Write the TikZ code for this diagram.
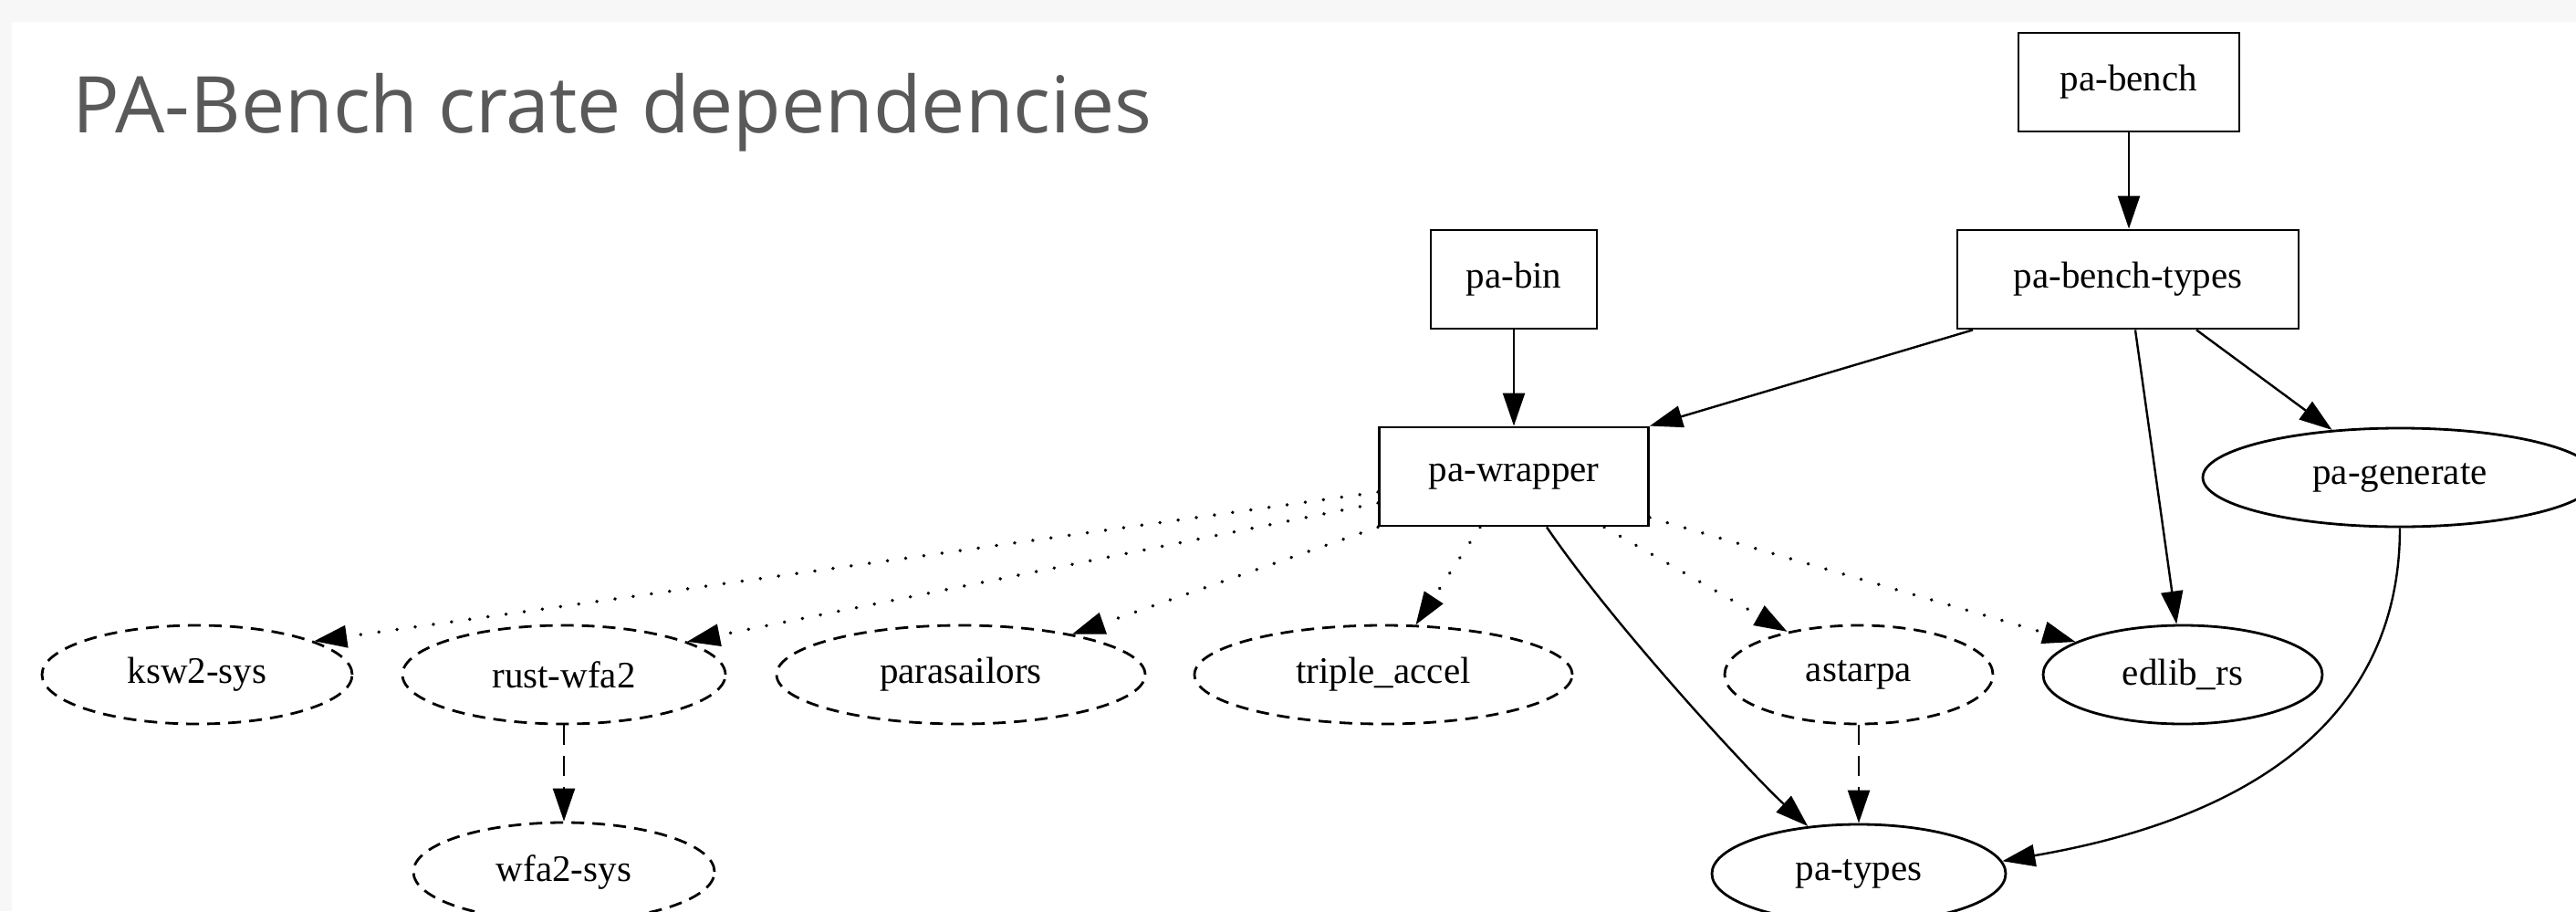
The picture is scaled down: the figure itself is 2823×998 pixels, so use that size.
\documentclass[tikz,border=0pt]{standalone}
\usepackage{fontspec}
\setmainfont{Liberation Serif}
\newfontfamily\titlefont{Open Sans}
\usetikzlibrary{arrows.meta,shapes.geometric}
\definecolor{bgout}{HTML}{F7F7F7}
\definecolor{titlegray}{HTML}{595959}
\newcommand{\lblfont}{\fontsize{41bp}{49bp}\selectfont}
\tikzset{
  box/.style={draw, rectangle, line width=2.8bp, inner sep=0pt, minimum height=108bp, font=\lblfont},
  ell/.style={draw, ellipse, line width=2.8bp, inner sep=0pt, minimum height=108bp, font=\lblfont},
  dashell/.style={ell, dash pattern=on 14bp off 9bp},
  edge/.style={line width=2.4bp, -{Triangle[length=36bp,width=24bp]}},
  dotedge/.style={edge, line cap=round, dash pattern=on 0.1bp off 20bp, line width=3.8bp},
  dashedge/.style={edge, dash pattern=on 22bp off 12bp}
}
\begin{document}
\begin{tikzpicture}[x=1bp, y=-1bp]
\useasboundingbox (0,0) rectangle (2823,998);
\clip (0,0) rectangle (2823,998);
\fill[bgout] (0,0) rectangle (2823,998);
\fill[white] (13,24) rectangle (2823,998);

\node[anchor=base west, inner sep=0pt, text=titlegray,
      font=\titlefont\fontsize{85.8bp}{100bp}\selectfont] (title) at (79,145) {PA-Bench crate dependencies};

% boxes
\node[box, minimum width=242bp] (pb) at (2333,90) {pa-bench};
\node[box, minimum width=374bp] (pbt) at (2332,306) {pa-bench-types};
\node[box, minimum width=182bp] (pbin) at (1659,306) {pa-bin};
\node[box, minimum width=295bp] (pw) at (1659,522) {pa-wrapper};

% ellipses
\node[dashell, minimum width=340bp] (ksw) at (216,739) {ksw2-sys};
\node[dashell, minimum width=354bp] (rwfa) at (618,739) {rust-wfa2};
\node[dashell, minimum width=404bp] (para) at (1053,739) {parasailors};
\node[dashell, minimum width=414bp] (tri) at (1516,739) {triple\_accel};
\node[dashell, minimum width=294bp] (ast) at (2037,739) {astarpa};
\node[ell, minimum width=306bp] (edl) at (2392,739) {edlib\_rs};
\node[ell, minimum width=432bp] (pgen) at (2630,523) {pa-generate};
\node[dashell, minimum width=330bp] (wfa) at (618,955) {wfa2-sys};
\node[ell, minimum width=322bp] (pt) at (2037,957) {pa-types};

% solid edges
\draw[edge] (pb.south) -- (pb.south |- pbt.north);
\draw[edge] (pbin) -- (pw);
\draw[edge] ([xshift=-170bp]pbt.south) -- (pw.north east);
\draw[edge] ([xshift=8bp]pbt.south) -- (edl.97);
\draw[edge] ([xshift=75bp]pbt.south) -- (pgen.145);
\draw[edge] ([xshift=36bp]pw.south) .. controls +(75,110) and +(-60,-55) .. (pt.137);
\draw[edge] (pgen.south) .. controls +(0,253) and +(197,-34) .. (pt.5);

% dashed edges
\draw[dashedge] (rwfa.south) -- (wfa.north);
\draw[dashedge] (ast.south) -- (pt.north);

% dotted edges
\draw[dotedge] ([yshift=-17bp]pw.west) -- (ksw.16);
\draw[dotedge] ([yshift=-29bp]pw.west) -- (rwfa.15);
\draw[dotedge] (pw.south west) -- (para.20);
\draw[dotedge] ([xshift=-37bp]pw.south) -- (tri.57);
\draw[dotedge] ([xshift=99bp]pw.south) -- (ast.149);
\draw[dotedge] ([yshift=-45bp]pw.east) -- (edl.163);
\end{tikzpicture}
\end{document}
